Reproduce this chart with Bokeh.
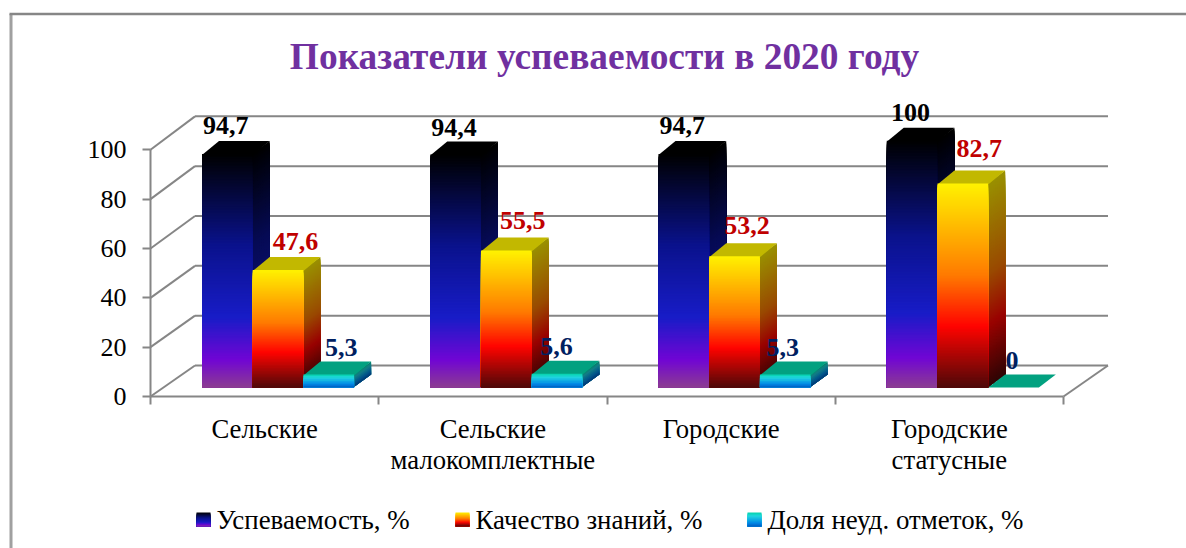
import numpy as np
from bokeh.embed import file_html
from bokeh.resources import INLINE
from bokeh.plotting import figure
from bokeh.core.properties import value
from bokeh.models import FixedTicker

# ---- data ----
categories = ["Сельские", "Сельские\nмалокомплектные", "Городские", "Городские\nстатусные"]
uspevaemost = [94.7, 94.4, 94.7, 100]
kachestvo = [47.6, 55.5, 53.2, 82.7]
dolya_neud = [5.3, 5.6, 5.3, 0]
series_names = ["Успеваемость, %", "Качество знаний, %", "Доля неуд. отметок, %"]
labels_1 = ["94,7", "94,4", "94,7", "100"]
labels_2 = ["47,6", "55,5", "53,2", "82,7"]
labels_3 = ["5,3", "5,6", "5,3", "0"]
title_text = "Показатели успеваемости в 2020 году"
y_ticks = [0, 20, 40, 60, 80, 100]

# ---- styles / layout ----
W, H = 1186, 548
PX_X = 228.25       # pixels per category
PX_Y = 2.467        # pixels per percent
X0_PAGE, Y0_PAGE = 150.0, 396.0   # page pixel of category 0 / value 0 on the front of the box
FONT = "Liberation Serif"
GRAY = "#868686"

def ux(px):  # horizontal pixel distance to data units
    return px / PX_X
def uy(px):
    return px / PX_Y

WALL_DX, WALL_DY, WALL_SCALE = ux(44.5), uy(31), 1.01
BAR_INSET_X, BAR_W = ux(51.5), ux(50.7)
BAR_LIFT = uy(9)
DEPTH_DX, DEPTH_DY = ux(17), uy(13)
SIDE_SHADE, TOP_SHADE = 0.6, 0.76

midnight = ([0, .39, .70, .88, 1], [(0, 0, 0), (10, 18, 140), (24, 28, 199), (112, 5, 212), (140, 61, 145)])
fire = ([0, .45, .70, 1], [(255, 242, 0), (255, 122, 0), (255, 3, 0), (77, 8, 8)])
ocean = ([0, .25, .75, 1], [(3, 212, 168), (33, 214, 224), (0, 135, 230), (0, 92, 191)])

series = [
    (uspevaemost, midnight, labels_1, "#000000",
     [-10, -10, -10, -10], [-15, -14, -15, -15]),
    (kachestvo, fire, labels_2, "#C00000",
     [9, 8, 4, 8], [-16, -17, -18, -22]),
    (dolya_neud, ocean, labels_3, "#002060",
     [4, -9, -11, -10], [-14, -14, -14, -14]),
]

def grad(stops, t):
    pos, cols = stops
    arr = np.array(cols, dtype=float)
    return np.stack([np.interp(t, pos, arr[:, k]) for k in range(3)], axis=-1)

def hexes(rgb, shade=1.0):
    return ["#%02x%02x%02x" % tuple(int(round(c * shade)) for c in row) for row in rgb]

p = figure(
    width=W, height=H, output_backend="svg", toolbar_location=None,
    x_range=(-X0_PAGE / PX_X, (W - X0_PAGE) / PX_X),
    y_range=((Y0_PAGE - H) / PX_Y, Y0_PAGE / PX_Y),
    min_border=0, outline_line_color=None, background_fill_color="white",
    border_fill_color="white",
)
p.grid.visible = False

n_cat = len(categories)

# outer chart border
x_l, x_r = p.x_range.start, p.x_range.end
y_b, y_t = p.y_range.start, p.y_range.end
p.line([x_l + ux(10.5), x_l + ux(10.5)], [y_b, y_t - uy(13.5)], line_color="#a0a0a0", line_width=3)
p.line([x_l + ux(9), x_r], [y_t - uy(13.5), y_t - uy(13.5)], line_color=GRAY, line_width=2.5)

# box: back wall gridlines, side-wall diagonals, floor edge
for t in y_ticks:
    yb = t * WALL_SCALE + WALL_DY
    p.line([0, WALL_DX], [t, yb], line_color=GRAY, line_width=2)
    p.line([WALL_DX, n_cat + WALL_DX], [yb, yb], line_color=GRAY, line_width=2)
p.line([n_cat, n_cat + WALL_DX], [0, WALL_DY], line_color=GRAY, line_width=2)

# 3-D gradient bars; each slice reaches the bar foot and the next one paints over it.
# Side and top faces run slightly under the front face so that no seam shows.
for c in range(n_cat):
    for s, (vals, stops, _, _, _, _) in enumerate(series):
        v = vals[c]
        xl = c + BAR_INSET_X + s * BAR_W
        xr = xl + BAR_W
        yb = BAR_LIFT
        yt = yb + v
        top_col = grad(stops, np.array([0.0]))
        tc = hexes(top_col, TOP_SHADE if s else 1.0)[0]
        lap_x, lap_y = ux(1), uy(1) if v > 0 else 0
        if v > 0:
            n = max(4, int(v * PX_Y / 1.5))
            edges = np.linspace(yt, yb, n + 1)
            t = np.linspace(0, 1, n + 1)
            mid = grad(stops, (t[:-1] + t[1:]) / 2)
            front = hexes(mid)
            side = hexes(mid, SIDE_SHADE)
            xs = [[xr - lap_x, xr + DEPTH_DX, xr + DEPTH_DX, xr - lap_x] for _ in range(n)]
            ys = [[edges[i], edges[i] + DEPTH_DY, yb + DEPTH_DY, yb] for i in range(n)]
            p.patches(xs, ys, fill_color=side, line_color=None)
        p.patch([xl, xr, xr + DEPTH_DX, xl + DEPTH_DX],
                [yt - lap_y, yt - lap_y, yt + DEPTH_DY, yt + DEPTH_DY],
                fill_color=tc, line_color=None)
        if v > 0:
            p.quad(left=[xl] * n, right=[xr] * n, top=edges[:-1], bottom=[yb] * n,
                   fill_color=front, line_color=None)

# value labels
for s, (vals, stops, labs, col, ldx, ldy) in enumerate(series):
    for c in range(n_cat):
        xc = c + BAR_INSET_X + s * BAR_W + BAR_W / 2 + DEPTH_DX / 2 + ux(ldx[c])
        yc = BAR_LIFT + vals[c] + DEPTH_DY - uy(ldy[c])
        p.text([xc], [yc], text=[labs[c]], text_font=value(FONT), text_font_style="bold",
               text_font_size="26px", text_color=col, text_align="center", text_baseline="middle")

# axes fixed on the box front
ya = p.yaxis[0]
ya.fixed_location = 0
ya.ticker = FixedTicker(ticks=y_ticks)
ya.bounds = (0, 100)
ya.axis_line_color = GRAY
ya.axis_line_width = 2
ya.major_tick_line_color = GRAY
ya.major_tick_line_width = 2
ya.major_tick_out = 8
ya.major_tick_in = 0
ya.minor_tick_line_color = None
ya.major_label_standoff = 16
ya.major_label_text_font = FONT
ya.major_label_text_font_size = "26px"
ya.major_label_text_color = "#000000"

xa = p.xaxis[0]
xa.fixed_location = 0
centres = [c + 0.5 for c in range(n_cat)]
xa.ticker = FixedTicker(ticks=centres, minor_ticks=list(range(n_cat + 1)))
xa.major_label_overrides = {c + 0.5: categories[c] for c in range(n_cat)}
xa.bounds = (0, n_cat)
xa.axis_line_color = GRAY
xa.axis_line_width = 2
xa.major_tick_line_color = None
xa.major_tick_out = 0
xa.major_tick_in = 0
xa.minor_tick_line_color = GRAY
xa.minor_tick_line_width = 2
xa.minor_tick_out = 8
xa.minor_tick_in = 0
xa.major_label_standoff = 9
xa.major_label_text_font = FONT
xa.major_label_text_font_size = "26.7px"
xa.major_label_text_line_height = 1.04
xa.major_label_text_color = "#000000"

# title
p.text([ux(604 - X0_PAGE)], [uy(Y0_PAGE - 56)], text=[title_text], text_font=value(FONT),
       text_font_style="bold", text_font_size="37.4px", text_color="#7030A0",
       text_align="center", text_baseline="middle")

# legend (gradient swatches + real text)
leg_x = [196, 455, 747]
leg_y_mid = 519
for (vals, stops, *_), name, lx in zip(series, series_names, leg_x):
    n = 14
    edges = np.linspace(uy(Y0_PAGE - 512), uy(Y0_PAGE - 526), n + 1)
    t = np.linspace(0, 1, n + 1)
    cols = hexes(grad(stops, (t[:-1] + t[1:]) / 2))
    p.quad(left=[ux(lx - X0_PAGE)] * n, right=[ux(lx + 14 - X0_PAGE)] * n,
           top=edges[:-1], bottom=[edges[-1]] * n, fill_color=cols, line_color=None)
    p.text([ux(lx + 20 - X0_PAGE)], [uy(Y0_PAGE - leg_y_mid)], text=[name], text_font=value(FONT),
           text_font_size="26.9px", text_color="#000000", text_align="left", text_baseline="middle")

open("out.html", "w").write(file_html(p, INLINE))
